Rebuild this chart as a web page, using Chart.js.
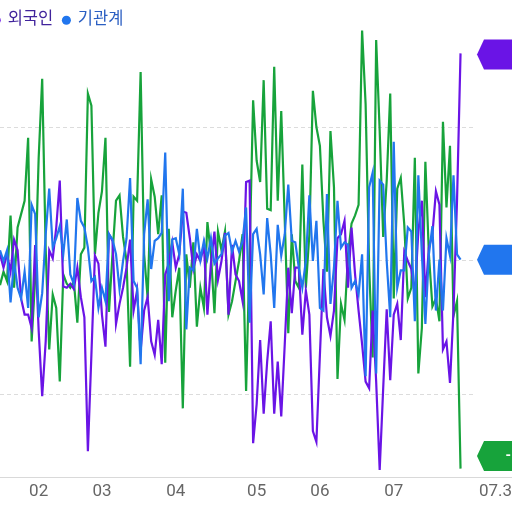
<!DOCTYPE html>
<html lang="ko">
<head>
<meta charset="utf-8">
<title>투자자별 순매수</title>
<script src="https://cdn.jsdelivr.net/npm/chart.js@4.4.1/dist/chart.umd.min.js"></script>
<style>
  html, body { margin: 0; padding: 0; background: #fff; overflow: hidden; width: 512px; height: 512px; }
  #wrap { position: absolute; left: -72px; top: 0; width: 624px; height: 512px; }
</style>
</head>
<body>
<div id="wrap"><canvas id="grafico" width="624" height="512"></canvas></div>
<script>
// 투자자별 순매수 (단위 임의, 눈금선 = ±100)
const seriesNames = ['개인', '외국인', '기관계'];
const seriesColors = ['#17a33b', '#6a14e6', '#2176ee'];
const legendTextColors = ['#1b7a34', '#41249c', '#2b5fc2'];

const gaein = [
  -18, -8, -15, 34, -20, 25, 35, 45, 92, -60, -13, 77, 136, 8, -66, -25, -35, -90, -10, -17,
  -20, -15, -46, 5, 10, 125, 116, 5, 36, 52, 92, -38, 5, 45, 49, 18, 0, -79, 48, 45,
  141, 5, -28, 61, 48, 20, 49, -76, 24, -42, -22, -5, -110, 5, -20, 14, -49, -20, -35, 29,
  5, -39, 22, 8, 22, -40, -30, -15, 0, 20, -97, 5, 120, 75, 59, 135, 39, 38, 145, 45,
  112, 30, -54, 20, -15, -20, 72, -20, 20, 127, 100, 86, 30, -8, 97, 55, -88, -32, -44, 5,
  28, 34, 42, 172, 117, -4, -72, 165, 97, 18, 60, 125, -28, 54, 62, 27, -28, -20, 77, -84,
  -50, 74, 5, -34, -28, -45, 104, 40, 86, -41, -30, -155
];
const oegugin = [
  5, -5, 5, -8, 16, 8, -28, -40, -40, -50, 12, -52, -101, -60, 8, 2, 25, 60, -19, -20,
  -17, -21, -5, -27, -42, -142, -70, 4, -2, -40, -64, 20, 15, -47, -32, -20, -5, 16, -37, -22,
  -67, -37, -27, -60, -70, -44, -77, -10, -2, 14, -5, 5, 37, 36, 17, -6, 5, 0, 12, -40,
  -2, 22, -14, 0, 21, -40, 12, -10, -15, -30, 59, 60, -136, -107, -59, -114, -75, -45, -114, -75,
  -116, -62, -5, -39, -5, -5, -55, -22, -40, -127, -135, -70, -6, -42, -56, -37, 17, 20, 30, -20,
  25, -10, -37, -62, -90, -95, -37, -90, -156, -95, -36, -89, -40, -32, -59, 7, 0, -6, -25, 22,
  45, -27, 10, 20, 52, 42, -66, -60, -91, -37, 45, 155
];
const gigwangye = [
  8, 0, 8, -31, 0, -20, -28, -8, -35, 42, 35, -42, -24, 20, 54, 10, 17, 26, 5, 31,
  -10, -17, 47, 30, 25, 10, -15, -12, -35, -20, -30, 20, 16, 5, -21, 0, 17, 62, -15, -20,
  -77, 20, 46, -6, 15, 17, 21, 81, -30, 16, 17, 5, 54, -51, -5, -7, 24, 1, 15, 2,
  17, -2, 2, 5, 19, 21, 7, 15, 7, 15, 40, -46, 20, 24, 5, -25, 32, 5, -35, 27,
  4, 20, 57, 15, 14, -5, -20, 0, 49, 0, 30, -35, -37, 50, -32, -5, 45, 10, 14, 12,
  -20, -15, -25, 5, -86, 55, 66, -84, 60, 57, 0, -42, 89, -20, -7, -7, 25, 22, -45, 64,
  5, -47, 5, 26, -37, 1, -37, 17, 4, 64, 5, 1
];

// x축 눈금 (데이터 인덱스 / 표시 텍스트)
const tickIdx = [11, 29, 50, 73, 91, 112];
const tickText = ['02', '03', '04', '05', '06', '07'];
const lastDate = '07.30';

const allSeries = [gaein, oegugin, gigwangye];
const fuente = 'Roboto, "Noto Sans CJK KR", sans-serif';

// 오른쪽 끝 값 태그 + 전체 폭 x축 선
const tagPlugin = {
  id: 'etiquetas',
  beforeDatasetsDraw(chart) {
    const ctx = chart.ctx;
    const area = chart.chartArea;
    ctx.save();
    ctx.strokeStyle = '#d9d9d9';
    ctx.lineWidth = 1;
    ctx.beginPath();
    ctx.moveTo(0, Math.round(area.bottom) + 0.5);
    ctx.lineTo(chart.width, Math.round(area.bottom) + 0.5);
    ctx.stroke();
    // 마지막 날짜
    ctx.fillStyle = '#666';
    ctx.font = '17px ' + fuente;
    ctx.textAlign = 'left';
    ctx.textBaseline = 'middle';
    ctx.fillText(lastDate, area.right + 3, area.bottom + 15);
    ctx.restore();
  },
  afterDatasetsDraw(chart) {
    const ctx = chart.ctx;
    const area = chart.chartArea;
    ctx.save();
    chart.data.datasets.forEach((ds, i) => {
      const meta = chart.getDatasetMeta(i);
      const pt = meta.data[meta.data.length - 1];
      const cy = Math.min(Math.max(pt.y, area.top + 16), area.bottom - 21);
      const x0 = area.right + 1;
      ctx.fillStyle = ds.borderColor;
      ctx.beginPath();
      ctx.moveTo(x0, cy);
      ctx.lineTo(x0 + 7, cy - 15);
      ctx.lineTo(chart.width, cy - 15);
      ctx.lineTo(chart.width, cy + 15);
      ctx.lineTo(x0 + 7, cy + 15);
      ctx.closePath();
      ctx.fill();
      ctx.fillStyle = '#fff';
      ctx.font = 'bold 14px ' + fuente;
      ctx.textAlign = 'right';
      ctx.textBaseline = 'middle';
      const v = ds.data[ds.data.length - 1].y;
      ctx.fillText(v.toLocaleString('ko-KR'), area.right + 59, cy);
    });
    ctx.restore();
  }
};

function crearGrafico() {
  const ctx = document.getElementById('grafico').getContext('2d');
  // 나중 시리즈가 위에 그려지도록 order 역순
  const datasets = allSeries.map((serie, i) => ({
    label: seriesNames[i],
    data: serie.map((v, j) => ({ x: j, y: v })),
    borderColor: seriesColors[i],
    backgroundColor: seriesColors[i],
    borderWidth: 2.2,
    pointRadius: 0,
    tension: 0,
    fill: false,
    clip: false,
    order: allSeries.length - i
  }));

  new Chart(ctx, {
    type: 'line',
    data: { datasets: datasets },
    options: {
      responsive: false,
      animation: false,
      layout: { padding: { left: 0, right: 76, top: 2, bottom: 4.6 } },
      plugins: {
        tooltip: { enabled: false },
        legend: {
          position: 'top',
          align: 'start',
          labels: {
            usePointStyle: true,
            pointStyle: 'circle',
            boxHeight: 6.4,
            boxWidth: 6.4,
            padding: 10,
            font: { size: 16.5, family: fuente },
            sort: (a, b) => a.datasetIndex - b.datasetIndex,
            generateLabels: function(chart) {
              const items = Chart.defaults.plugins.legend.labels.generateLabels(chart);
              items.forEach(it => {
                it.fontColor = legendTextColors[it.datasetIndex];
                it.lineWidth = 0;
                it.strokeStyle = 'transparent';
              });
              return items;
            }
          }
        }
      },
      scales: {
        x: {
          type: 'linear',
          min: 0,
          max: 135.4,
          grid: { display: false, drawTicks: false },
          border: { display: false },
          afterBuildTicks: function(scale) {
            scale.ticks = tickIdx.map(v => ({ value: v }));
          },
          ticks: {
            autoSkip: false,
            maxRotation: 0,
            padding: 5,
            color: '#666',
            font: { size: 17, family: fuente },
            callback: function(value) {
              const k = tickIdx.indexOf(value);
              return k >= 0 ? tickText[k] : '';
            }
          }
        },
        y: {
          min: -161.25,
          max: 166.1,
          afterBuildTicks: function(scale) {
            scale.ticks = [-100, 0, 100].map(v => ({ value: v }));
          },
          afterFit: function(scale) { scale.width = 72; },
          ticks: { display: false },
          grid: { color: '#dcdcdc', lineWidth: 1, drawTicks: false },
          border: { display: false, dash: [4, 3] }
        }
      }
    },
    plugins: [tagPlugin]
  });
}

document.addEventListener('DOMContentLoaded', crearGrafico);
</script>
</body>
</html>
